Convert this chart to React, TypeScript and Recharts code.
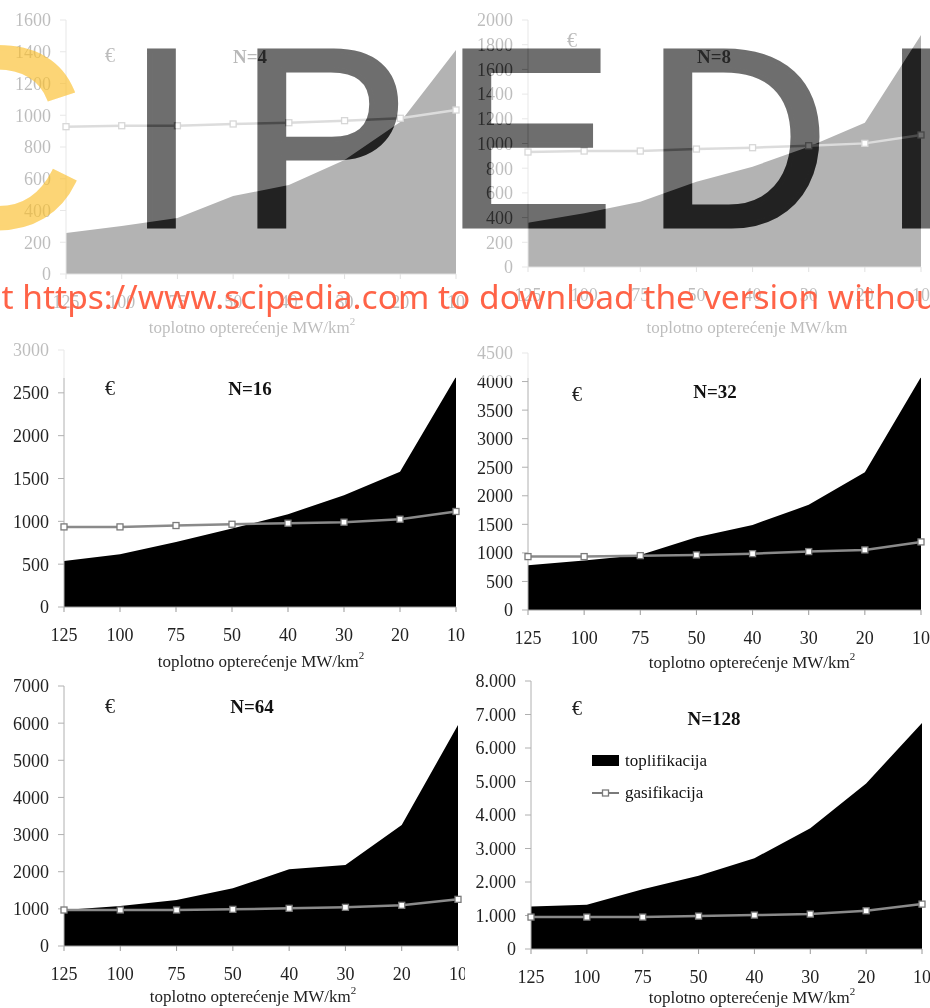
import React from 'react';
import { ComposedChart, Area, Line, XAxis, YAxis, Legend } from 'recharts';

const loads = ['125', '100', '75', '50', '40', '30', '20', '10'];

const toplN4 = [258, 302, 352, 491, 561, 718, 958, 1411];
const gasN4 = [928, 934, 934, 945, 953, 966, 981, 1033];
const toplN8 = [359, 435, 529, 691, 812, 974, 1168, 1879];
const gasN8 = [931, 939, 939, 955, 966, 982, 1001, 1069];
const toplN16 = [538, 616, 760, 916, 1083, 1305, 1578, 2688];
const gasN16 = [935, 935, 951, 966, 978, 990, 1025, 1115];
const toplN32 = [784, 865, 964, 1274, 1490, 1841, 2414, 4079];
const gasN32 = [935, 935, 952, 964, 987, 1023, 1052, 1192];
const toplN64 = [969, 1077, 1238, 1553, 2065, 2181, 3258, 5950];
const gasN64 = [969, 969, 969, 987, 1014, 1041, 1095, 1256];
const toplN128 = [1270, 1320, 1786, 2183, 2709, 3602, 4942, 6746];
const gasN128 = [953, 953, 953, 982, 1012, 1042, 1141, 1340];

const ticksN4 = [0, 200, 400, 600, 800, 1000, 1200, 1400, 1600];
const ticksN8 = [0, 200, 400, 600, 800, 1000, 1200, 1400, 1600, 1800, 2000];
const ticksN16 = [0, 500, 1000, 1500, 2000, 2500, 3000];
const ticksN32 = [0, 500, 1000, 1500, 2000, 2500, 3000, 3500, 4000, 4500];
const ticksN64 = [0, 1000, 2000, 3000, 4000, 5000, 6000, 7000];
const ticksN128 = [0, 1000, 2000, 3000, 4000, 5000, 6000, 7000, 8000];

const SERIF = '"Liberation Serif", "Times New Roman", serif';
const xTitle = 'toplotno opterećenje MW/km';

const plain = (v: number) => String(v);
const dotted = (v: number) => (v === 0 ? '0' : `${v / 1000}.000`);

// left/right/top/bottom = plot area edges in page pixels
const panels = [
  { label: 'N=4', topl: toplN4, gas: gasN4, ticks: ticksN4, fmt: plain, x0: 0, left: 66, right: 456, top: 20, bottom: 274, titleX: 252, titleDy: 59, sup: true, euro: [110, 62], n: [250, 63] },
  { label: 'N=8', topl: toplN8, gas: gasN8, ticks: ticksN8, fmt: plain, x0: 465, left: 528, right: 921, top: 20, bottom: 267, titleX: 747, titleDy: 66, sup: false, euro: [572, 47], n: [714, 63] },
  { label: 'N=16', topl: toplN16, gas: gasN16, ticks: ticksN16, fmt: plain, x0: 0, left: 64, right: 456, top: 350, bottom: 607, titleX: 261, titleDy: 60, sup: true, euro: [110, 395], n: [250, 395] },
  { label: 'N=32', topl: toplN32, gas: gasN32, ticks: ticksN32, fmt: plain, x0: 465, left: 528, right: 921, top: 353, bottom: 610, titleX: 752, titleDy: 58, sup: true, euro: [577, 401], n: [715, 398] },
  { label: 'N=64', topl: toplN64, gas: gasN64, ticks: ticksN64, fmt: plain, x0: 0, left: 64, right: 458, top: 686, bottom: 946, titleX: 253, titleDy: 56, sup: true, euro: [110, 713], n: [252, 713] },
  { label: 'N=128', topl: toplN128, gas: gasN128, ticks: ticksN128, fmt: dotted, x0: 465, left: 531, right: 922, top: 681, bottom: 949, titleX: 752, titleDy: 54, sup: true, euro: [577, 715], n: [714, 725], legend: true },
];

const SquareDot = (props: any) => {
  const { cx, cy, index } = props;
  if (cx == null || cy == null) return null;
  return <rect key={`d-${index}`} x={cx - 3} y={cy - 3} width={6} height={6} fill="#fff" stroke="#7a7a7a" strokeWidth={1.3} />;
};

const LegendBox = () => (
  <svg width={150} height={54} style={{ display: 'block' }}>
    <rect x={0} y={0} width={27} height={11} fill="#000" />
    <text x={33} y={11} fontFamily={SERIF} fontSize={17} fill="#111">toplifikacija</text>
    <line x1={0} y1={38} x2={27} y2={38} stroke="#7a7a7a" strokeWidth={2} />
    <rect x={10.5} y={35} width={6} height={6} fill="#fff" stroke="#7a7a7a" strokeWidth={1.3} />
    <text x={33} y={43} fontFamily={SERIF} fontSize={17} fill="#111">gasifikacija</text>
  </svg>
);

const Panel = ({ p }: any) => {
  const h = p.bottom - p.top;
  const data = loads.map((l, i) => ({ load: l, toplifikacija: p.topl[i], gasifikacija: p.gas[i] }));
  const plotBottom = h + 10;
  const TitleLabel = () => (
    <text x={p.titleX - p.x0} y={plotBottom + p.titleDy} textAnchor="middle" fontFamily={SERIF} fontSize={17} fill="#222">
      {xTitle}
      {p.sup && <tspan dy={-8} fontSize={11}>2</tspan>}
    </text>
  );
  return (
    <div style={{ position: 'absolute', left: p.x0, top: p.top - 10 }}>
      <ComposedChart width={465} height={h + 10 + 80} data={data} margin={{ top: 10, right: 465 - (p.right - p.x0), left: 0, bottom: 0 }}>
        <XAxis
          dataKey="load"
          scale="point"
          padding={{ left: 0, right: 0 }}
          height={80}
          interval={0}
          tickSize={5}
          tickMargin={16}
          stroke="#999"
          tick={{ fontSize: 18, fill: '#222', fontFamily: SERIF }}
          label={<TitleLabel />}
        />
        <YAxis
          width={p.left - p.x0}
          domain={[0, p.ticks[p.ticks.length - 1]]}
          ticks={p.ticks}
          interval={0}
          tickSize={6}
          tickMargin={9}
          stroke="#b0b0b0"
          tickFormatter={p.fmt}
          tick={{ fontSize: 18, fill: '#222', fontFamily: SERIF }}
        />
        <Area type="linear" dataKey="toplifikacija" fill="#000" fillOpacity={1} stroke="none" isAnimationActive={false} />
        <Line type="linear" dataKey="gasifikacija" stroke="#8a8a8a" strokeWidth={2.5} dot={SquareDot} isAnimationActive={false} />
        {p.legend && (
          <Legend
            layout="vertical"
            align="center"
            verticalAlign="middle"
            content={() => <LegendBox />}
            wrapperStyle={{ left: 592 - p.x0, top: 755 - (p.top - 10), width: 150, height: 54 }}
          />
        )}
      </ComposedChart>
    </div>
  );
};

export default function App() {
  return (
    <div style={{ position: 'absolute', left: 0, top: 0, width: 930, height: 1008, overflow: 'hidden', background: '#fff' }}>
      {panels.map((p) => (
        <Panel key={p.label} p={p} />
      ))}
      <svg width={930} height={1008} style={{ position: 'absolute', left: 0, top: 0 }}>
        {panels.map((p) => (
          <g key={p.label}>
            <text x={p.euro[0]} y={p.euro[1]} textAnchor="middle" fontFamily={SERIF} fontSize={20} fill="#222">€</text>
            <text x={p.n[0]} y={p.n[1]} textAnchor="middle" fontFamily={SERIF} fontSize={19} fontWeight="bold" fill="#111">{p.label}</text>
          </g>
        ))}
      </svg>
      <div style={{ position: 'absolute', left: 0, top: 0, width: 930, height: 378, background: 'rgba(255,255,255,0.7)' }} />
      <svg width={930} height={300} style={{ position: 'absolute', left: 0, top: 0, mixBlendMode: 'difference' }}>
        <g fontFamily='"Liberation Sans", Arial, sans-serif' fontSize={255} fill="#919191" stroke="#919191" strokeWidth={5} textAnchor="middle">
          <text x={161.5} y={226}>I</text>
          <text x={324} y={226}>P</text>
          <text x={529} y={226}>E</text>
          <text x={737} y={226}>D</text>
          <text x={916.5} y={226}>I</text>
        </g>
      </svg>
      <svg width={930} height={1008} style={{ position: 'absolute', left: 0, top: 0 }}>
        <text x={-9} y={226} textAnchor="middle" fontFamily='"Liberation Sans", Arial, sans-serif' fontSize={255} fill="#fbc02d" stroke="#fbc02d" strokeWidth={5} opacity={0.65}>C</text>
        <text x={-52} y={309} fontFamily='"Noto Sans", sans-serif' fontSize={33.5} fill="#ff6347">Visit https://www.scipedia.com to download the version without watermark</text>
      </svg>
    </div>
  );
}
